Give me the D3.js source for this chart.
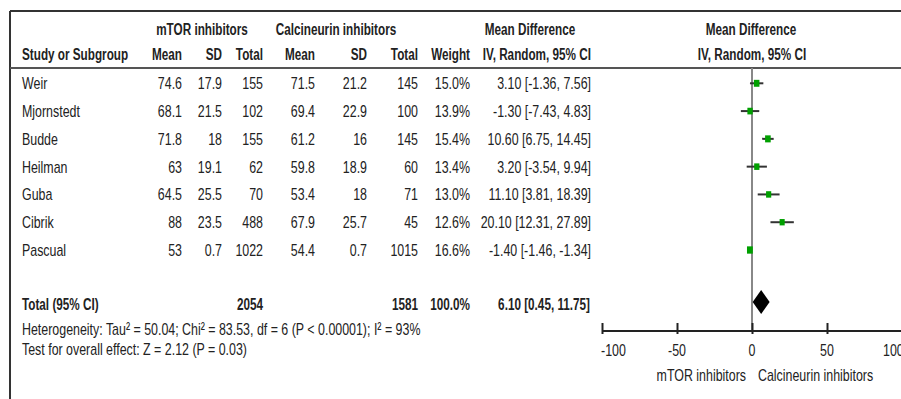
<!DOCTYPE html>
<html>
<head>
<meta charset="utf-8">
<script src="https://cdn.jsdelivr.net/npm/d3@7"></script>
<style>
  body { margin: 0; background: #fff; }
  svg text { font-family: "Liberation Sans", Arial, sans-serif; fill: #222; }
</style>
</head>
<body>
<svg id="chart" width="901" height="399"></svg>
<script>
// study data
var studies  = ["Weir", "Mjornstedt", "Budde", "Heilman", "Guba", "Cibrik", "Pascual"];
var mtorMean = [74.6, 68.1, 71.8, 63, 64.5, 88, 53];
var mtorSD   = [17.9, 21.5, 18, 19.1, 25.5, 23.5, 0.7];
var mtorN    = [155, 102, 155, 62, 70, 488, 1022];
var cniMean  = [71.5, 69.4, 61.2, 59.8, 53.4, 67.9, 54.4];
var cniSD    = [21.2, 22.9, 16, 18.9, 18, 25.7, 0.7];
var cniN     = [145, 100, 145, 60, 71, 45, 1015];
var weights  = [15.0, 13.9, 15.4, 13.4, 13.0, 12.6, 16.6];
var md       = [3.10, -1.30, 10.60, 3.20, 11.10, 20.10, -1.40];
var ciLow    = [-1.36, -7.43, 6.75, -3.54, 3.81, 12.31, -1.46];
var ciHigh   = [7.56, 4.83, 14.45, 9.94, 18.39, 27.89, -1.34];

// pooled
var totalMtorN = 2054, totalCniN = 1581, totalWeight = 100.0;
var pooled = {md: 6.10, lo: 0.45, hi: 11.75};

var axisTicks = [-100, -50, 0, 50, 100];
var heteroText = "Heterogeneity: Tau\u00b2 = 50.04; Chi\u00b2 = 83.53, df = 6 (P < 0.00001); I\u00b2 = 93%";
var overallText = "Test for overall effect: Z = 2.12 (P = 0.03)";

var svg = d3.select("#chart");

// the original uses a narrow font, so squeeze Arial-like text horizontally
function txt(x, y, s, anchor, bold) {
  var sx = bold ? 0.69 : 0.73;
  svg.append("text")
    .attr("transform", "translate(" + x + "," + y + ") scale(" + sx + ",1)")
    .attr("text-anchor", anchor || "start")
    .attr("font-size", 17)
    .attr("font-weight", bold ? "bold" : "normal")
    .text(s);
}

function f2(v) { return v.toFixed(2); }
function f1(v) { return v.toFixed(1); }
function ciStr(m, l, h) { return f2(m) + " [" + f2(l) + ", " + f2(h) + "]"; }

// frame
svg.append("line").attr("x1", 10).attr("x2", 901).attr("y1", 11).attr("y2", 11)
  .attr("stroke", "#333").attr("stroke-width", 2);
svg.append("line").attr("x1", 10).attr("x2", 10).attr("y1", 11).attr("y2", 399)
  .attr("stroke", "#333").attr("stroke-width", 2);
svg.append("line").attr("x1", 10).attr("x2", 901).attr("y1", 68).attr("y2", 68)
  .attr("stroke", "#555").attr("stroke-width", 2);

// headers
txt(202, 35, "mTOR inhibitors", "middle", true);
txt(336, 35, "Calcineurin inhibitors", "middle", true);
txt(530, 35, "Mean Difference", "middle", true);
txt(751, 35, "Mean Difference", "middle", true);
txt(22, 60, "Study or Subgroup", "start", true);
txt(182, 60, "Mean", "end", true);
txt(222, 60, "SD", "end", true);
txt(263, 60, "Total", "end", true);
txt(315, 60, "Mean", "end", true);
txt(367, 60, "SD", "end", true);
txt(418, 60, "Total", "end", true);
txt(470, 60, "Weight", "end", true);
txt(591, 60, "IV, Random, 95% CI", "end", true);
txt(752, 60, "IV, Random, 95% CI", "middle", true);

// rows
var y = d3.scalePoint().domain(studies).range([83.3, 250]);
var x = d3.scaleLinear().domain([-100, 100]).range([602, 902]);

studies.forEach(function(s, i) {
  var b = y(s) + 6;
  txt(22, b, s);
  txt(182, b, String(mtorMean[i]), "end");
  txt(222, b, String(mtorSD[i]), "end");
  txt(263, b, String(mtorN[i]), "end");
  txt(315, b, String(cniMean[i]), "end");
  txt(367, b, String(cniSD[i]), "end");
  txt(418, b, String(cniN[i]), "end");
  txt(470, b, f1(weights[i]) + "%", "end");
  txt(591, b, ciStr(md[i], ciLow[i], ciHigh[i]), "end");
});

// totals
txt(22, 310, "Total (95% CI)", "start", true);
txt(263, 310, String(totalMtorN), "end", true);
txt(418, 310, String(totalCniN), "end", true);
txt(470, 310, f1(totalWeight) + "%", "end", true);
txt(590, 310, ciStr(pooled.md, pooled.lo, pooled.hi), "end", true);
txt(22, 335, heteroText);
txt(22, 355, overallText);

// zero line
svg.append("line").attr("x1", x(0)).attr("x2", x(0)).attr("y1", 68).attr("y2", 331)
  .attr("stroke", "#888").attr("stroke-width", 2);

// CI lines + squares
var plot = svg.append("g");
plot.selectAll("line.ci").data(studies).enter().append("line")
  .attr("class", "ci")
  .attr("x1", function(d, i) { return x(ciLow[i]); })
  .attr("x2", function(d, i) { return x(ciHigh[i]); })
  .attr("y1", function(d) { return y(d); })
  .attr("y2", function(d) { return y(d); })
  .attr("stroke", "#333").attr("stroke-width", 2);

var sz = d3.scaleSqrt().domain([0, 20]).range([0, 8]);
plot.selectAll("rect.sq").data(studies).enter().append("rect")
  .attr("class", "sq")
  .attr("width", function(d, i) { return sz(weights[i]) * 0.8; })
  .attr("height", function(d, i) { return sz(weights[i]); })
  .attr("x", function(d, i) { return x(md[i]) - sz(weights[i]) * 0.4; })
  .attr("y", function(d, i) { return y(d) - sz(weights[i]) / 2; })
  .attr("fill", "#00a000");

// diamond
var dy = 302, dh = 12;
svg.append("path")
  .attr("d", "M" + x(pooled.lo) + "," + dy + "L" + x(pooled.md) + "," + (dy - dh) +
    "L" + x(pooled.hi) + "," + dy + "L" + x(pooled.md) + "," + (dy + dh) + "Z")
  .attr("fill", "#000");

// axis
var ax = svg.append("g").attr("transform", "translate(0,331)")
  .call(d3.axisBottom(x).tickValues(axisTicks).tickSize(-8).tickPadding(0));
ax.select(".domain").attr("stroke", "#222").attr("stroke-width", 2).attr("d", "M" + x(-100) + ",0H901");
ax.selectAll(".tick line").attr("stroke", "#222").attr("stroke-width", 2).attr("y1", 3);
ax.selectAll(".tick text").remove();
axisTicks.forEach(function(t, i) {
  var anchor = "middle", xx = x(t);
  if (i === 0) { anchor = "start"; xx = x(t) - 1; }
  if (i === axisTicks.length - 1) { anchor = "start"; xx = 883; }
  txt(xx, 356, String(t), anchor);
});
txt(746, 381, "mTOR inhibitors", "end");
txt(758, 381, "Calcineurin inhibitors", "start");
</script>
</body>
</html>
